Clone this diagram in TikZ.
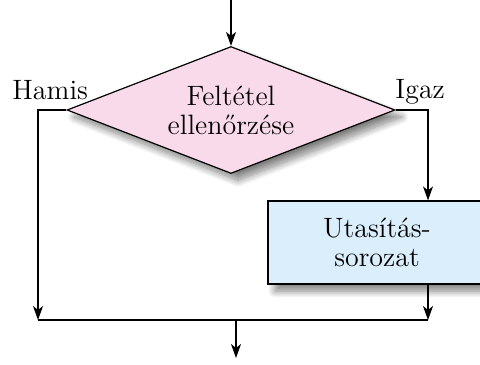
\documentclass[tikz,border=0pt]{standalone}
\usetikzlibrary{arrows.meta,shapes.geometric,shadows.blur}

\definecolor{condpink}{RGB}{249,218,234}
\definecolor{stmtblue}{RGB}{218,238,251}

\newcommand{\flowfont}{\fontsize{14}{14.5}\selectfont}

\tikzset{
  flow/.style={line width=0.6pt, -{Stealth[length=7pt,width=5pt,inset=2pt]}},
  plain/.style={line width=0.6pt},
  softshadow/.style={blur shadow={shadow xshift=3.5pt, shadow yshift=-3.5pt,
      shadow blur radius=3.5pt, shadow blur steps=14, shadow opacity=50}},
  decision/.style={diamond, draw, line width=0.6pt, fill=condpink, softshadow,
      inner sep=0pt, shape aspect=2.6, minimum width=164pt, minimum height=63.5pt,
      align=center, font=\flowfont},
  process/.style={rectangle, draw, line width=0.6pt, fill=stmtblue, softshadow,
      inner sep=0pt, minimum width=109pt, minimum height=41.5pt, align=center,
      font=\flowfont},
  lbl/.style={inner sep=0pt, anchor=base west, font=\flowfont}
}

\begin{document}
\begin{tikzpicture}[x=0.5pt, y=-0.5pt]
  \useasboundingbox (0,0) rectangle (480,364);

  % shapes
  \node[decision] (cond) at (231,110) {Feltétel\\ellenőrzése};
  \node[process]  (stmt) at (377,242.5) {Utasítás-\\sorozat};

  % branch labels
  \node[lbl] (hamis) at (12,99) {Hamis};
  \node[lbl] (igaz)  at (395,98) {Igaz};

  % helper points
  \coordinate (entry) at (231,0);
  \coordinate (joinL) at (38,320);
  \coordinate (joinR) at (428,320);
  \coordinate (exit)  at (236,358);

  % connectors
  \draw[flow] (entry) -- (cond.north);
  \draw[flow] (cond.west) -| (joinL);
  \draw[flow] (cond.east) -| (stmt.north -| joinR);
  \draw[flow] (stmt.south -| joinR) -- (joinR);
  \draw[plain] (joinL) -- (joinR);
  \draw[flow] (joinL -| exit) -- (exit);
\end{tikzpicture}
\end{document}
